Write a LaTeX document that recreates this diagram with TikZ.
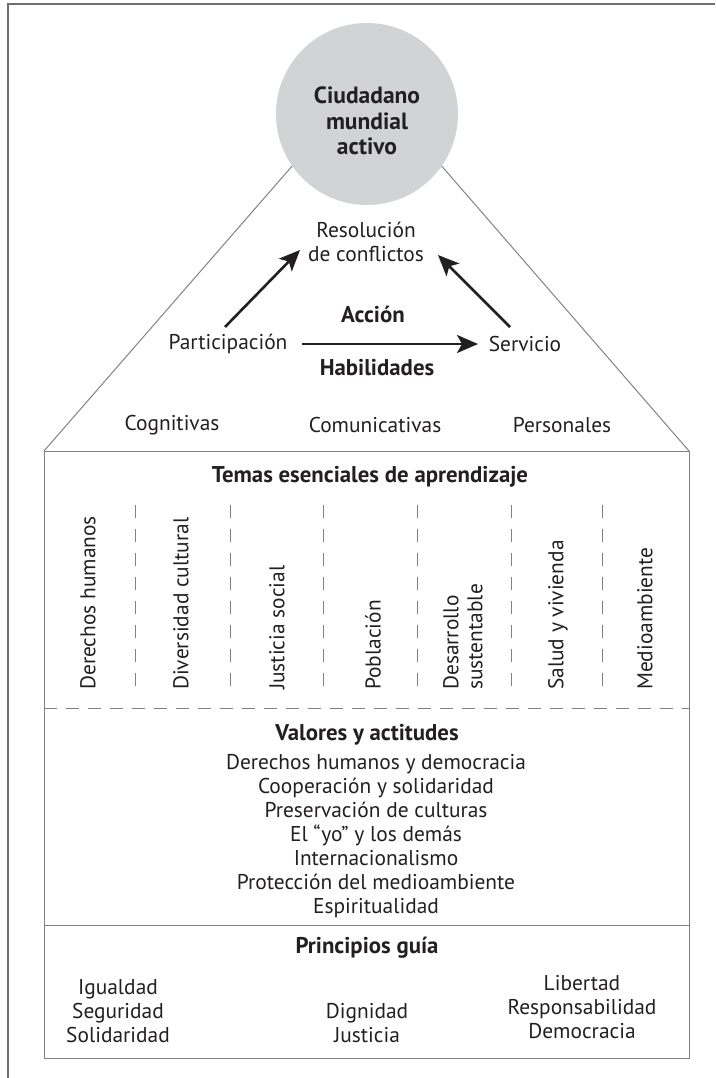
\documentclass[tikz,border=0pt]{standalone}
\usepackage{fontspec}
\setmainfont{PT Sans}
\usetikzlibrary{arrows.meta}
\definecolor{ink}{HTML}{231F20}
\definecolor{framegray}{HTML}{6D6E70}
\definecolor{boxgray}{HTML}{808285}
\definecolor{discgray}{HTML}{D1D3D4}
\begin{document}
\begin{tikzpicture}[x=1pt,y=-1pt,
  txt/.style={inner sep=0pt,text=ink,font=\fontsize{21.4}{24}\selectfont,align=center},
  bold/.style={txt,font=\fontsize{22.8}{24}\selectfont\bfseries},
  coltxt/.style={txt,rotate=90,anchor=west,align=left},
  thinline/.style={draw=boxgray,line width=1pt},
  dashline/.style={draw=boxgray,line width=1pt,dash pattern=on 13pt off 9pt},
  arr/.style={draw=ink,line width=2.6pt,-{Stealth[length=21pt,width=18pt,inset=5pt]}}]
\useasboundingbox (0,0) rectangle (715,1078);

% outer frame (top and left edges)
\draw[framegray,line width=2.4pt] (8,1078) -- (8,4) -- (715,4);

% roof of the house
\coordinate (apex) at (367,80);
\coordinate (bl) at (44,451);
\coordinate (br) at (689,451);
\draw[thinline] (bl) -- (apex) -- (br);

% body of the house with its sections
\coordinate (bbl) at (44,1058);
\coordinate (bbr) at (689,1058);
\draw[thinline] (bl) -- (br) -- (bbr) -- (bbl) -- cycle;
\coordinate (dl) at (44,708);
\coordinate (dr) at (689,708);
\draw[dashline] (dl) -- (dr);
\coordinate (sl) at (44,925);
\coordinate (sr) at (689,925);
\draw[thinline] (sl) -- (sr);

% disc at the top
\node[circle,fill=discgray,minimum size=182pt,inner sep=0pt] (disc) at (367,114) {};
\node[bold,font=\fontsize{23.5}{25.5}\selectfont\bfseries] (ciud) at (367,121) {Ciudadano\\mundial\\activo};

% action triangle
\node[txt] (res) at (366,242) {Resolución\\de conflictos};
\node[txt] (part) at (228,344) {Participación};
\node[txt] (serv) at (525,344) {Servicio};
\node[bold] (accion) at (373,314) {Acción};
\node[bold] (habil) at (377,368) {Habilidades};
\coordinate (p1) at (225,327);
\coordinate (p2) at (300,250);
\coordinate (s1) at (510,327);
\coordinate (s2) at (438,255);
\coordinate (h1) at (302,344);
\coordinate (h2) at (478,344);
\draw[arr] (p1) -- (p2);
\draw[arr] (s1) -- (s2);
\draw[arr] (h1) -- (h2);

% skills
\node[txt] (cog) at (172,425) {Cognitivas};
\node[txt] (com) at (375,425) {Comunicativas};
\node[txt] (per) at (562,425) {Personales};

% essential learning themes
\node[bold] (temas) at (370,477) {Temas esenciales de aprendizaje};
\foreach \x [count=\i] in {135,230,323,417,511,602}{
  \coordinate (t\i) at (\x,505);
  \coordinate (b\i) at (\x,694);
  \draw[dashline,dash pattern=on 13pt off 11pt] (t\i) -- (b\i);
}
\node[coltxt] (c1) at (88,690) {Derechos humanos};
\node[coltxt] (c2) at (181,690) {Diversidad cultural};
\node[coltxt] (c3) at (277,690) {Justicia social};
\node[coltxt] (c4) at (373,690) {Población};
\node[coltxt] (c5) at (463,690) {Desarrollo\\sustentable};
\node[coltxt] (c6) at (558,690) {Salud y vivienda};
\node[coltxt] (c7) at (645,690) {Medioambiente};

% values and attitudes
\node[bold] (valores) at (367,735) {Valores y actitudes};
\node[txt] (vlist) at (376,836) {Derechos humanos y democracia\\Cooperación y solidaridad\\Preservación de culturas\\El “yo” y los demás\\Internacionalismo\\Protección del medioambiente\\Espiritualidad};

% guiding principles
\node[bold] (princ) at (367,948) {Principios guía};
\node[txt] (pl) at (118,1011) {Igualdad\\Seguridad\\Solidaridad};
\node[txt] (pc) at (367,1023) {Dignidad\\Justicia};
\node[txt] (pr) at (582,1007) {Libertad\\Responsabilidad\\Democracia};
\end{tikzpicture}
\end{document}
